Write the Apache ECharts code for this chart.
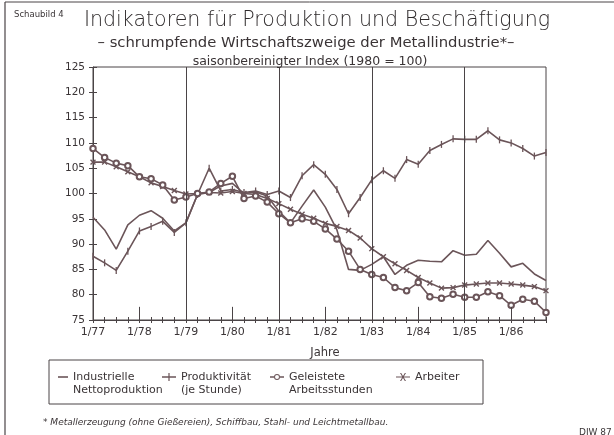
<!DOCTYPE html>
<html>
<head>
<meta charset="utf-8">
<script src="https://cdn.jsdelivr.net/npm/echarts@6/dist/echarts.min.js"></script>
<style>
  html, body { margin: 0; padding: 0; background: #fff; }
  #main { width: 614px; height: 435px; }
</style>
</head>
<body>
<div id="main"></div>
<script>
// Quartalswerte 1/77 .. 10/86, saisonbereinigt, 1980 = 100
var years = [77, 78, 79, 80, 81, 82, 83, 84, 85, 86];
var months = [1, 4, 7, 10];
var quarters = [];
years.forEach(function (y) {
  months.forEach(function (m) { quarters.push(m + '/' + y); });
});

var yTicks = [75, 80, 85, 90, 95, 100, 105, 110, 115, 120, 125];
var gridLines = ['1/79', '1/81', '1/83', '1/85'];   // durchgehende Linien
var longTicks = ['1/78', '1/80', '1/82', '1/84', '1/86'];

var nettoproduktion = [95.3, 92.8, 89.0, 93.8, 95.7, 96.6, 95.1, 92.6, 94.2, 99.8,
  100.2, 101.5, 102.0, 100.0, 100.3, 99.5, 96.5, 94.2, 97.5, 100.7,
  97.3, 92.8, 85.0, 84.8, 86.0, 87.5, 84.0, 85.8, 86.8, 86.6,
  86.5, 88.7, 87.8, 88.0, 90.7, 88.2, 85.5, 86.2, 84.1, 82.8];
var produktivitaet = [87.6, 86.3, 84.8, 88.6, 92.6, 93.5, 94.5, 92.3, 94.2, 99.8,
  105.0, 100.5, 100.8, 100.2, 100.5, 99.8, 100.5, 99.2, 103.5, 105.7,
  103.8, 100.8, 96.0, 99.2, 102.7, 104.5, 103.0, 106.7, 105.8, 108.5,
  109.7, 110.8, 110.7, 110.7, 112.4, 110.6, 110.0, 108.9, 107.4, 108.1];
var arbeitsstunden = [108.9, 107.1, 106.0, 105.5, 103.3, 102.9, 101.7, 98.7, 99.3, 100.0,
  100.3, 102.0, 103.4, 99.0, 99.5, 98.3, 96.0, 94.2, 95.0, 94.5,
  93.0, 91.0, 88.6, 85.0, 84.0, 83.4, 81.4, 80.8, 82.4, 79.6,
  79.3, 80.1, 79.5, 79.5, 80.6, 79.8, 77.9, 79.1, 78.7, 76.5];
var arbeiter = [106.2, 106.2, 105.3, 104.3, 103.3, 102.1, 101.4, 100.6, 99.9, 100.0,
  100.2, 100.1, 100.4, 100.0, 99.8, 99.0, 98.0, 96.9, 95.9, 95.1,
  94.1, 93.5, 92.7, 91.2, 89.1, 87.5, 86.1, 84.8, 83.4, 82.3,
  81.3, 81.4, 81.9, 82.1, 82.3, 82.3, 82.1, 81.9, 81.6, 80.8];

var lineColor = '#6b5559';
var inkColor = '#3a3436';
var font = 'DejaVu Sans';

// Markierungen im Diagramm
var symBar = 'path://M0,0L1,0L1,8L0,8Z';
var symCross = 'path://M4,0L6,0L6,4L10,4L10,6L6,6L6,10L4,10L4,6L0,6L0,4L4,4Z';

// Legendensymbole
var icoDash = 'path://M0,0L10,0L10,1.6L0,1.6Z';
var icoPlus = 'path://M0,3.3L14,3.3L14,4.7L0,4.7Z M6.4,0L7.6,0L7.6,8L6.4,8Z';
var icoRing = 'path://M0,2.3L4,2.3L4,3.7L0,3.7Z M10,2.3L14,2.3L14,3.7L10,3.7Z ' +
  'M10,3A3,3 0 1,0 4,3A3,3 0 1,0 10,3Z M9,3A2,2 0 1,1 5,3A2,2 0 1,1 9,3Z';
var icoStar = 'path://M0,3.4L14,3.4L14,4.6L0,4.6Z M4,0L5.2,0L10,8L8.8,8Z M8.8,0L10,0L5.2,8L4,8Z';

var marks = gridLines.map(function (q) { return { xAxis: q }; });
longTicks.forEach(function (q) {
  marks.push([{ coord: [q, 75] }, { coord: [q, 77.6] }]);
});

var chart = echarts.init(document.getElementById('main'), null, { renderer: 'canvas' });

// zweizeilige Einträge: Symbol auf Höhe der ersten Zeile (Leerzeile davor)
function legendItem(name, icon, left, w, h, twoLines) {
  return {
    data: [{ name: name, icon: icon }],
    left: left,
    top: twoLines ? 357.5 : 370.5,
    itemWidth: w,
    itemHeight: h,
    itemGap: 0,
    selectedMode: false,
    padding: 0,
    formatter: function (n) { return twoLines ? ' \n' + n : n; },
    textStyle: { fontFamily: font, fontSize: 11, color: inkColor, lineHeight: 13 }
  };
}

var option = {
  backgroundColor: '#fff',
  animation: false,
  title: [
    { text: 'Indikatoren für Produktion und Beschäftigung', left: 312, top: 5, textAlign: 'center',
      textStyle: { fontFamily: font, fontWeight: 'lighter', fontSize: 20.6, color: '#2e2a2b' } },
    { text: '– schrumpfende Wirtschaftszweige der Metallindustrie*–', left: 301, top: 31, textAlign: 'center',
      textStyle: { fontFamily: font, fontWeight: 'normal', fontSize: 14.8, color: inkColor } },
    { text: 'saisonbereinigter Index (1980 = 100)', left: 305, top: 50, textAlign: 'center',
      textStyle: { fontFamily: font, fontWeight: 'normal', fontSize: 12.5, color: inkColor } },
    { text: 'Schaubild 4', left: 9, top: 5,
      textStyle: { fontFamily: font, fontWeight: 'normal', fontSize: 8.5, color: inkColor } },
    { text: 'Jahre', left: 320, top: 342, textAlign: 'center',
      textStyle: { fontFamily: font, fontWeight: 'normal', fontSize: 11.5, color: inkColor } },
    { text: '* Metallerzeugung (ohne Gießereien), Schiffbau, Stahl- und Leichtmetallbau.', left: 38, top: 413,
      textStyle: { fontFamily: font, fontWeight: 'normal', fontStyle: 'italic', fontSize: 9, color: inkColor } },
    { text: 'DIW 87', left: 574, top: 423,
      textStyle: { fontFamily: font, fontWeight: 'normal', fontSize: 9, color: inkColor } }
  ],
  grid: {
    left: 93, right: 68, top: 67, bottom: 115,
    show: true, borderColor: '#4a4446', borderWidth: 1
  },
  legend: [
    legendItem('Industrielle\nNettoproduktion', icoDash, 58, 10, 1.6, true),
    legendItem('Produktivität\n(je Stunde)', icoPlus, 162, 14, 8, true),
    legendItem('Geleistete\nArbeitsstunden', icoRing, 270, 14, 6, true),
    legendItem('Arbeiter', icoStar, 396, 14, 8, false)
  ],
  xAxis: [{
    type: 'category',
    data: quarters,
    boundaryGap: false,
    axisLine: { lineStyle: { color: '#4a4446', width: 1 } },
    axisTick: { interval: 0, length: 3, lineStyle: { color: '#4a4446' } },
    axisLabel: { interval: 3, margin: 7, fontFamily: font, fontSize: 11, color: inkColor },
    splitLine: { show: false }
  }, {
    type: 'category',
    data: quarters,
    boundaryGap: false,
    position: 'bottom',
    axisLine: { show: false },
    axisTick: { interval: 0, inside: true, length: 3, lineStyle: { color: '#4a4446' } },
    axisLabel: { show: false },
    splitLine: { show: false }
  }],
  yAxis: [{
    type: 'value',
    min: yTicks[0],
    max: yTicks[yTicks.length - 1],
    interval: 5,
    axisLine: { show: true, lineStyle: { color: '#4a4446', width: 1 } },
    axisTick: { show: true, length: 4, lineStyle: { color: '#4a4446' } },
    axisLabel: { margin: 8, fontFamily: font, fontSize: 10.5, color: inkColor },
    splitLine: { show: false }
  }, {
    type: 'value',
    min: yTicks[0],
    max: yTicks[yTicks.length - 1],
    interval: 5,
    position: 'left',
    axisLine: { show: false },
    axisTick: { show: true, inside: true, length: 4, lineStyle: { color: '#4a4446' } },
    axisLabel: { show: false },
    splitLine: { show: false }
  }],
  graphic: [
    { type: 'line', shape: { x1: 5, y1: 2, x2: 614, y2: 2 }, style: { stroke: '#4a4446', lineWidth: 1 } },
    { type: 'line', shape: { x1: 5, y1: 2, x2: 5, y2: 435 }, style: { stroke: '#4a4446', lineWidth: 1.2 } },
    { type: 'rect', shape: { x: 49, y: 360, width: 434, height: 44 }, style: { fill: 'none', stroke: '#4a4446', lineWidth: 1 } }
  ],
  series: [{
    name: 'Industrielle\nNettoproduktion',
    type: 'line',
    data: nettoproduktion,
    symbol: 'none',
    itemStyle: { color: lineColor },
    lineStyle: { color: lineColor, width: 1.6 },
    markLine: {
      silent: true,
      symbol: 'none',
      label: { show: false },
      lineStyle: { color: '#4a4446', width: 1, type: 'solid' },
      data: marks
    },
    z: 3
  }, {
    name: 'Produktivität\n(je Stunde)',
    type: 'line',
    data: produktivitaet,
    symbol: symBar,
    symbolSize: [1.3, 7],
    itemStyle: { color: lineColor },
    lineStyle: { color: lineColor, width: 1.6 },
    z: 3
  }, {
    name: 'Geleistete\nArbeitsstunden',
    type: 'line',
    data: arbeitsstunden,
    symbol: 'emptyCircle',
    symbolSize: 5.5,
    itemStyle: { color: lineColor, borderWidth: 1.2 },
    lineStyle: { color: lineColor, width: 1.6 },
    z: 4
  }, {
    name: 'Arbeiter',
    type: 'line',
    data: arbeiter,
    symbol: symCross,
    symbolSize: 7,
    symbolRotate: 45,
    itemStyle: { color: lineColor },
    lineStyle: { color: lineColor, width: 1.6 },
    z: 3
  }]
};

chart.setOption(option);
</script>
</body>
</html>
